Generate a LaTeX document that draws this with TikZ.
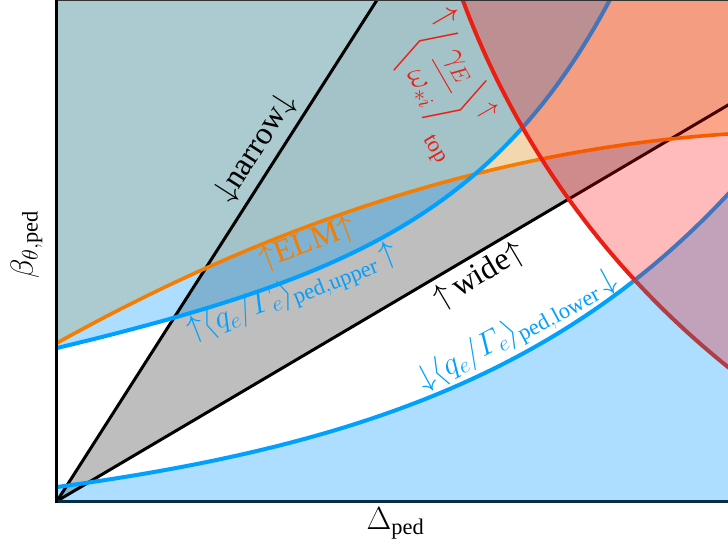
\RequirePackage{fix-cm}
\documentclass[tikz,border=0pt]{standalone}
\usepackage{amsmath}
\usepackage{fontspec}
\setmainfont{Liberation Serif}
\definecolor{wedgegray}{RGB}{190,190,190}
\definecolor{elmc}{RGB}{253,221,173}
\definecolor{bluefc}{RGB}{0,155,255}
\definecolor{bluel}{RGB}{0,160,255}
\definecolor{orl}{RGB}{245,125,0}
\definecolor{redl}{RGB}{235,30,20}
\definecolor{redd}{RGB}{176,62,70}
\definecolor{axisbot}{RGB}{10,45,70}
\tikzset{
  lab/.style={inner sep=0pt, font=\fontsize{32}{36}\selectfont},
  bigdelim/.style={inner sep=0pt, font=\fontsize{36.5}{40}\selectfont},
  curveblue/.style={draw=bluel, line width=4pt},
  curveorange/.style={draw=orl, line width=3.6pt},
  blackline/.style={draw=black, line width=3pt},
  redcurve/.style={line width=4pt},
}
\begin{document}
\begin{tikzpicture}[x=1pt,y=-1pt,
  declare function={
    uf(\x)=348-0.2047*(\x-57)-4.995*(exp(0.007*(\x-57))-1);
    of(\x)=343-0.5572*(\x-57)+0.000366*(\x-57)*(\x-57);
    lf(\x)=487-0.0363*(\x-57)-28.47*(exp(0.0035*(\x-57))-1);
  }]
\useasboundingbox (0,0) rectangle (728,551);
\fill[white] (0,0) rectangle (728,551);
\begin{scope}
  \clip (57,0) rectangle (728,501.3);
  % gray wedge between narrow and wide
  \fill[wedgegray] (57,501) -- (377,0) -- (800,0) -- (800,62.6) -- cycle;
  % ELM unstable region (above orange)
  \fill[elmc, opacity=0.83] plot[domain=57:740, samples=90] (\x,{of(\x)}) -- (740,-10) -- (50,-10) -- (50,343) -- cycle;
  % blue regions (outside the q_e/Gamma_e band)
  \fill[bluefc, opacity=0.32] plot[domain=57:625, samples=110] (\x,{uf(\x)}) -- (625,-40) -- (50,-40) -- (50,348) -- cycle;
  \fill[bluefc, opacity=0.32] plot[domain=57:740, samples=90] (\x,{lf(\x)}) -- (740,560) -- (50,560) -- (50,487) -- cycle;
  % lines
  \draw[blackline] (57,501) -- (377,0);
  \draw[blackline] (57,501) -- (800,62.6);
  \draw[curveorange] plot[domain=50:740, samples=90] (\x,{of(\x)});
  \draw[curveblue] plot[domain=50:625, samples=110] (\x,{uf(\x)});
  \draw[curveblue] plot[domain=50:740, samples=90] (\x,{lf(\x)});
  % red region (gamma_E / omega_*i top)
  \fill[red, opacity=0.267] (1258,-295) circle[radius=848pt];
  \begin{scope}
    \clip plot[domain=50:740, samples=90] (\x,{lf(\x)}) -- (740,-30) -- (50,-30) -- cycle;
    \draw[redcurve, draw=redl] (1258,-295) circle[radius=848pt];
  \end{scope}
  \begin{scope}
    \clip plot[domain=50:740, samples=90] (\x,{lf(\x)}) -- (740,560) -- (50,560) -- cycle;
    \draw[redcurve, draw=redd] (1258,-295) circle[radius=848pt];
  \end{scope}
\end{scope}
% axes
\draw[line width=2pt, black!80] (57,0) -- (728,0);
\draw[line width=3pt, axisbot] (56.3,501.3) -- (728,501.3);
\draw[line width=3pt, black] (56.3,0) -- (56.3,502.8);
% labels
\node[lab, rotate=57.4] (narrowlab) at (256,148) {$\downarrow$narrow$\downarrow$};
\node[lab, rotate=30.5] (widelab) at (479.5,276) {$\uparrow$\,wide$\uparrow$};
\node[lab, text=orl, rotate=20.5] (elmlab) at (307.5,244) {$\uparrow$ELM$\uparrow$};
\node[lab, text=bluel, rotate=21.3] (uplab) at (292.5,293) {$\mathord{\uparrow}\langle q_e/\varGamma_e\rangle_{\mathrm{ped,upper}}\,\mathord{\uparrow}$};
\node[lab, text=bluel, rotate=28.3] (lowlab) at (517.5,331) {$\mathord{\downarrow}\langle q_e/\varGamma_e\rangle_{\mathrm{ped,lower}}\,\mathord{\downarrow}$};
% red label
\node[lab, text=redl, rotate=-60] (ra1) at (445.5,17.6) {$\uparrow$};
\node[bigdelim, text=redl, rotate=-60] (rbl) at (423,46.7) {$\Bigg\langle$};
\node[lab, text=redl, rotate=-60] (rfr) at (438.8,78) {$\dfrac{\gamma_E}{\omega_{*i}}$};
\node[bigdelim, text=redl, rotate=-60] (rbr) at (458.2,105.6) {$\Bigg\rangle$};
\node[inner sep=0pt, text=redl, rotate=-60, font=\fontsize{26}{28}\selectfont] (ra2) at (487.8,110.9) {$\uparrow$};
\node[inner sep=0pt, text=redl, rotate=-60, font=\fontsize{22.4}{25}\selectfont] (rtop) at (434.2,150) {top};
% axis labels
\node[lab, rotate=90] (ylab) at (26.5,244.5) {$\beta_{\theta,\mathrm{ped}}$};
\node[lab] (xlab) at (395.5,523.5) {$\Delta_{\mathrm{ped}}$};
\end{tikzpicture}
\end{document}
